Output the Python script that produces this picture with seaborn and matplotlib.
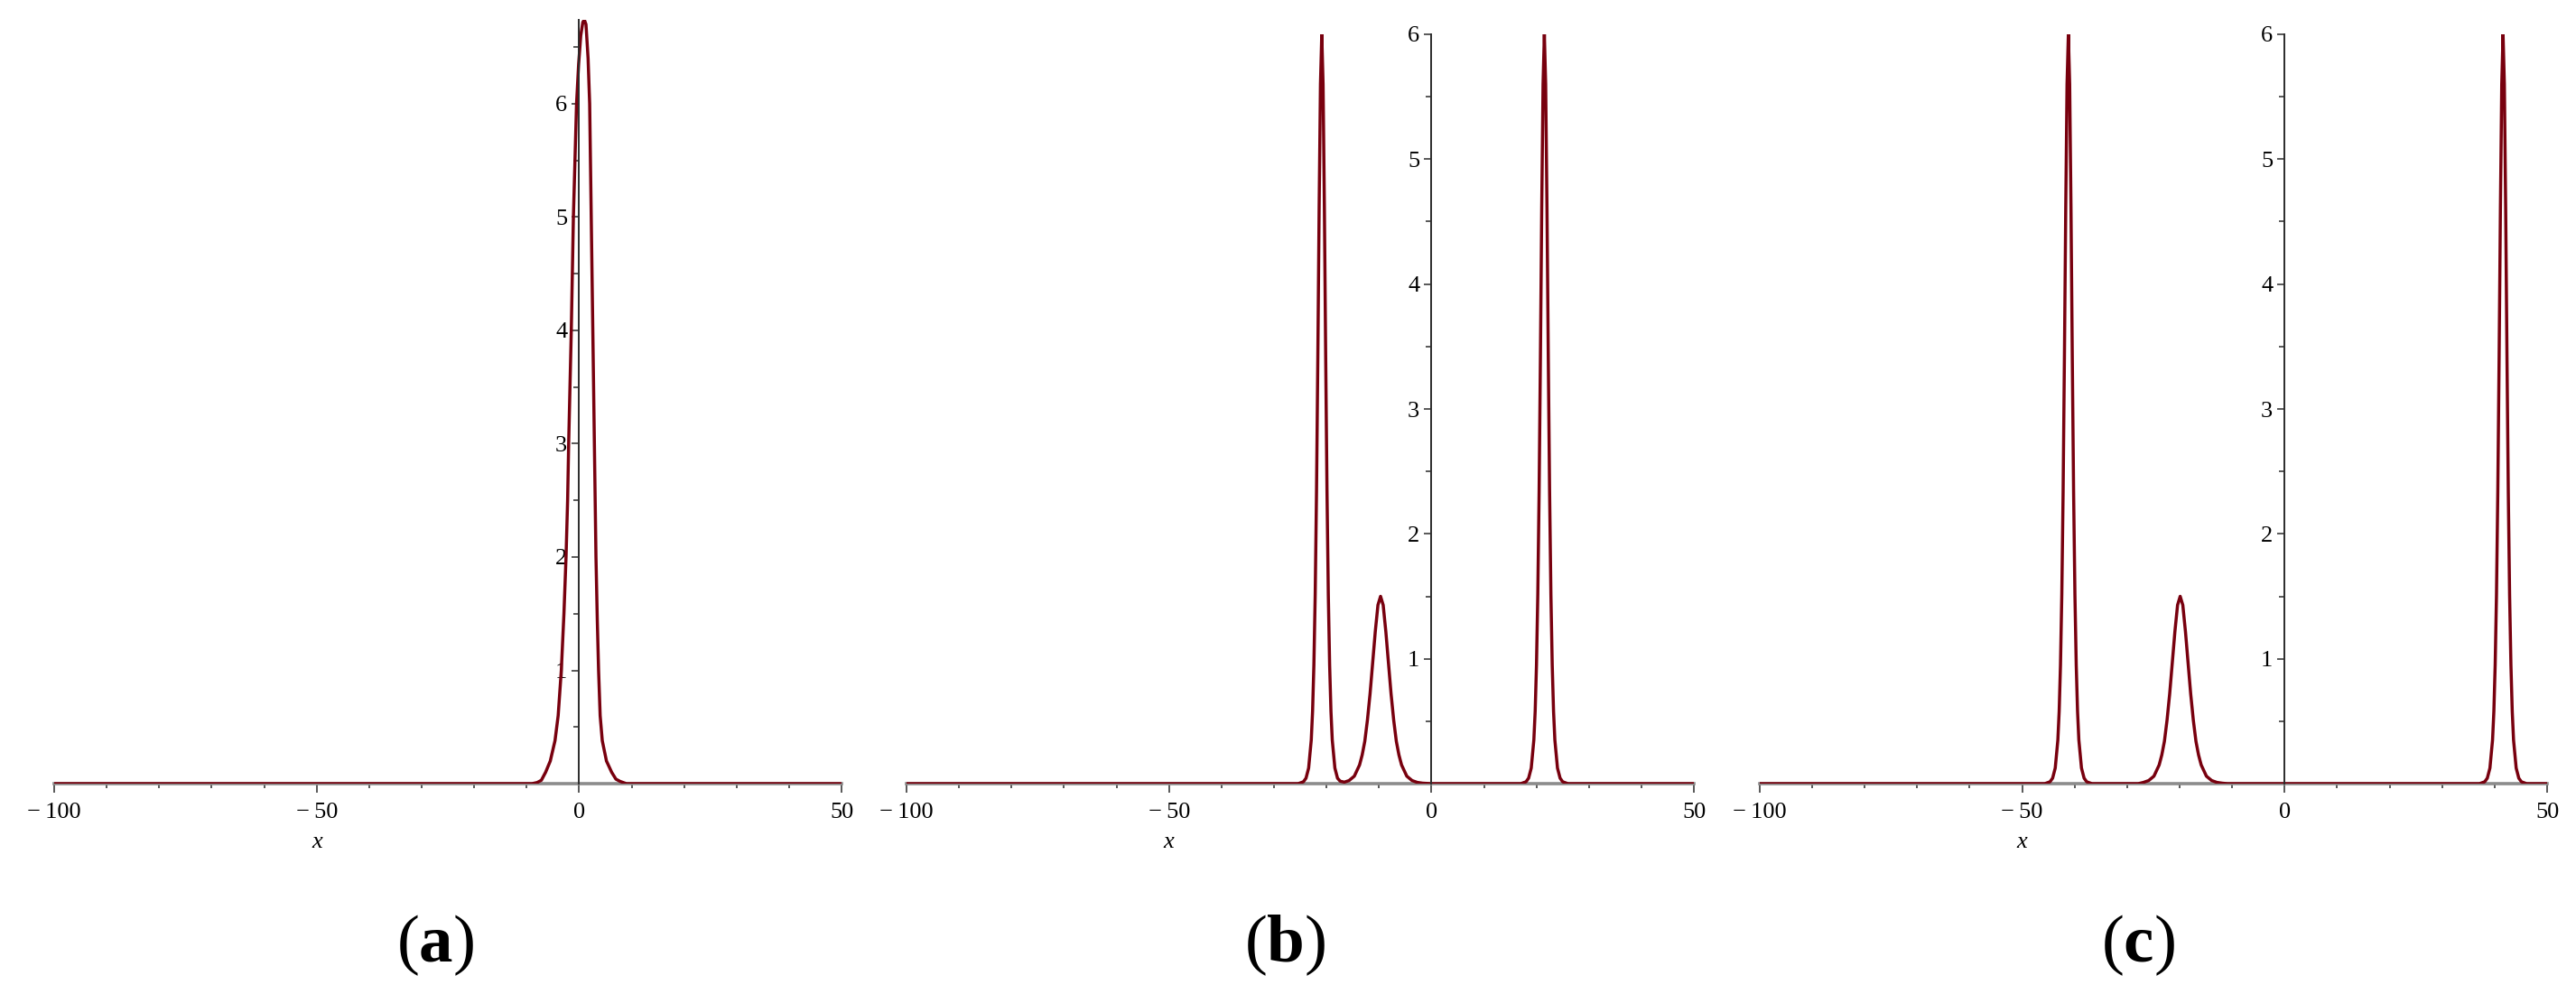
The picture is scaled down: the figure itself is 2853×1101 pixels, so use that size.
import pandas as pd
import seaborn as sns
import matplotlib.pyplot as plt
from matplotlib.ticker import FixedLocator, MultipleLocator

# ---- data read off the three snapshots ----
# (a) single merged pulse near x = 1
xa = [-100, -9.0, -8.0, -7.2, -6.4, -5.5, -4.6, -4.0, -3.4, -2.9, -2.5, -2.2, -2.0, -1.75,
      -1.5, -1.3, -1.1, -0.8, -0.5, -0.1, 0.3, 0.7, 1.0, 1.3, 1.7, 2.0, 2.15, 2.3, 2.45,
      2.6, 2.75, 2.9, 3.05, 3.2, 3.45, 3.7, 4.0, 4.4, 5.2, 6.2, 7.0, 7.8, 9.0, 50]
ua = [0, 0, 0.01, 0.03, 0.1, 0.2, 0.38, 0.6, 1.0, 1.5, 2.0, 2.5, 3.0, 3.5,
      4.0, 4.5, 5.0, 5.5, 6.0, 6.35, 6.6, 6.72, 6.74, 6.7, 6.4, 6.0, 5.5, 5.0, 4.5,
      4.0, 3.5, 3.0, 2.5, 2.0, 1.45, 1.0, 0.6, 0.38, 0.2, 0.1, 0.04, 0.02, 0, 0]

# (b) two tall pulses at about -21 and 21.5, a low one at about -9.7
xb = ([-100]
      + [-25.4, -24.4, -23.9, -23.4, -22.9, -22.65, -22.4, -22.15, -21.9, -21.65, -21.4, -21.15,
         -20.9, -20.65, -20.4, -20.15, -19.9, -19.65, -19.4, -19.15, -18.9, -18.4, -17.9, -17.4]
      + [-16.6, -15.7, -14.7, -13.7, -13.2, -12.7, -12.2, -11.7, -11.2, -10.7, -10.2, -9.7,
         -9.2, -8.7, -8.2, -7.7, -7.2, -6.7, -6.2, -5.7, -4.7, -3.7, -2.7, -1.7, 0.0]
      + [17.0, 18.0, 18.5, 19.0, 19.5, 19.75, 20.0, 20.25, 20.5, 20.75, 21.0, 21.25, 21.5,
         21.75, 22.0, 22.25, 22.5, 22.75, 23.0, 23.25, 23.5, 24.0, 24.5, 25.0, 26.0]
      + [50])
ub = ([0]
      + [0, 0.015, 0.044, 0.125, 0.35, 0.58, 0.95, 1.51, 2.33, 3.41, 4.61, 5.60,
         6.0, 5.60, 4.61, 3.41, 2.33, 1.51, 0.95, 0.58, 0.35, 0.125, 0.044, 0.02]
      + [0.012, 0.025, 0.06, 0.15, 0.23, 0.34, 0.51, 0.72, 0.97, 1.22, 1.43, 1.5,
         1.43, 1.22, 0.97, 0.72, 0.51, 0.34, 0.23, 0.15, 0.06, 0.025, 0.01, 0.004, 0]
      + [0, 0.015, 0.044, 0.125, 0.35, 0.58, 0.95, 1.51, 2.33, 3.41, 4.61, 5.60, 6.0,
         5.60, 4.61, 3.41, 2.33, 1.51, 0.95, 0.58, 0.35, 0.125, 0.044, 0.015, 0]
      + [0])

# (c) tall pulses at about -41.2 and 41.6, low one at about -19.9
xc = ([-100]
      + [-45.7, -44.7, -44.2, -43.7, -43.2, -42.95, -42.7, -42.45, -42.2, -41.95, -41.7, -41.45,
         -41.2, -40.95, -40.7, -40.45, -40.2, -39.95, -39.7, -39.45, -39.2, -38.7, -38.2, -37.7, -36.7]
      + [-27.9, -26.9, -25.9, -24.9, -23.9, -23.4, -22.9, -22.4, -21.9, -21.4, -20.9, -20.4, -19.9,
         -19.4, -18.9, -18.4, -17.9, -17.4, -16.9, -16.4, -15.9, -14.9, -13.9, -12.9, -11.9, -10.9]
      + [37.1, 38.1, 38.6, 39.1, 39.6, 39.85, 40.1, 40.35, 40.6, 40.85, 41.1, 41.35, 41.6,
         41.85, 42.1, 42.35, 42.6, 42.85, 43.1, 43.35, 43.6, 44.1, 44.6, 45.1, 46.1]
      + [50])
uc = ([0]
      + [0, 0.015, 0.044, 0.125, 0.35, 0.58, 0.95, 1.51, 2.33, 3.41, 4.61, 5.60,
         6.0, 5.60, 4.61, 3.41, 2.33, 1.51, 0.95, 0.58, 0.35, 0.125, 0.044, 0.015, 0]
      + [0, 0.01, 0.025, 0.06, 0.15, 0.23, 0.34, 0.51, 0.72, 0.97, 1.22, 1.43, 1.5,
         1.43, 1.22, 0.97, 0.72, 0.51, 0.34, 0.23, 0.15, 0.06, 0.025, 0.01, 0.004, 0]
      + [0, 0.015, 0.044, 0.125, 0.35, 0.58, 0.95, 1.51, 2.33, 3.41, 4.61, 5.60, 6.0,
         5.60, 4.61, 3.41, 2.33, 1.51, 0.95, 0.58, 0.35, 0.125, 0.044, 0.015, 0]
      + [0])

x_ticks = [-100, -50, 0, 50]
x_tick_labels = ["\u2212\u2009100", "\u2212\u200950", "0", "50"]
y_ticks = [1, 2, 3, 4, 5, 6]
panel_labels = ["a", "b", "c"]

CURVE = "#78000E"
AXIS = "#2b2b2b"

sns.set_style("white")
plt.rcParams["font.family"] = ["Liberation Serif", "DejaVu Serif"]
plt.rcParams["mathtext.fontset"] = "custom"
plt.rcParams["mathtext.rm"] = "Liberation Serif"
plt.rcParams["mathtext.bf"] = "Liberation Serif:bold"
plt.rcParams["text.color"] = "black"


def draw_panel(ax, x, u, ytop):
    assert len(x) == len(u)
    df = pd.DataFrame({"x": x, "u": u})
    sns.lineplot(data=df, x="x", y="u", ax=ax, color=CURVE, linewidth=2.5,
                 estimator=None, sort=False, zorder=3)
    ax.set_xlim(-100, 50)
    ax.set_ylim(0, ytop)
    ax.set_xlabel("")
    ax.set_ylabel("")

    # Maple-style axes crossing at the origin
    for side in ["top", "right"]:
        ax.spines[side].set_visible(False)
    ax.spines["left"].set_position(("data", 0))
    ax.spines["left"].set_color(AXIS)
    ax.spines["left"].set_linewidth(1.4)
    ax.spines["left"].set_zorder(4)
    ax.spines["bottom"].set_color("#8c8c8c")
    ax.spines["bottom"].set_linewidth(2.6)

    ax.xaxis.set_major_locator(FixedLocator(x_ticks))
    ax.set_xticklabels(x_tick_labels)
    ax.xaxis.set_minor_locator(MultipleLocator(10))
    ax.yaxis.set_major_locator(FixedLocator(y_ticks))
    ax.yaxis.set_minor_locator(MultipleLocator(0.5))

    ax.tick_params(axis="x", which="both", bottom=True, top=False, direction="out",
                   width=1.1, color=AXIS, labelcolor="black")
    ax.tick_params(axis="x", which="major", length=7, pad=8, labelsize=19)
    ax.tick_params(axis="x", which="minor", length=3.8)
    ax.tick_params(axis="y", which="both", left=True, right=False, direction="out",
                   width=1.1, color=AXIS, labelcolor="black")
    ax.tick_params(axis="y", which="major", length=5.5, pad=4, labelsize=19)
    ax.tick_params(axis="y", which="minor", length=4.5)
    ax.set_facecolor("none")

    ax.annotate("x", xy=(-50, 0), xycoords="data", xytext=(0, -47),
                textcoords="offset points", ha="center", va="center",
                fontsize=19, fontstyle="italic")


fig = plt.figure(figsize=(28.53, 11.01), dpi=100)
ax_a = fig.add_axes([0.02103, 0.2116, 0.3057, 0.7684])
ax_b = fig.add_axes([0.3519, 0.2116, 0.3057, 0.7539])
ax_c = fig.add_axes([0.6831, 0.2116, 0.3057, 0.7539])

draw_panel(ax_a, xa, ua, 6.74)
draw_panel(ax_b, xb, ub, 6.0)
draw_panel(ax_c, xc, uc, 6.0)

for xpos, lab in zip([0.169, 0.499, 0.830], panel_labels):
    fig.text(xpos, 0.049, "($\\mathbf{%s}$)" % lab, ha="center", va="center", fontsize=54)

fig.savefig("out.png", dpi=100)
